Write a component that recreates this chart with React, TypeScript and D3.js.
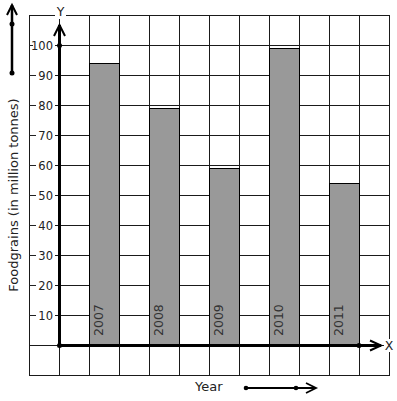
import React from "react";
import * as d3 from "d3";

const years = ["2007", "2008", "2009", "2010", "2011"];
const foodgrains = [94, 79, 59, 99, 54];
const yTicks = [10, 20, 30, 40, 50, 60, 70, 80, 90, 100];
const barColumns = [1, 3, 5, 7, 9];

const W = 397;
const H = 401;
const FONT = "'DejaVu Sans', Verdana, sans-serif";

export default function App() {
  // column index -1..11 -> x; value -10..110 -> y
  const x = d3.scaleLinear().domain([-1, 11]).range([29, 389]);
  const y = d3.scaleLinear().domain([-10, 110]).range([375, 15]);
  const colW = x(1) - x(0);

  const vLines = d3.range(-1, 12).map((i) => x(i));
  const hLines = d3.range(-10, 120, 10).map((v) => y(v));

  const ax0 = x(0);
  const ay0 = y(0);
  const stroke = "#1a1a1a";

  return (
    <svg
      width={W}
      height={H}
      style={{ position: "absolute", left: 0, top: 0, background: "#fff" }}
      fontFamily={FONT}
    >
      <rect x={0} y={0} width={W} height={H} fill="#fff" />
      {/* grid */}
      {vLines.map((vx, i) => (
        <line key={"v" + i} x1={vx + 0.5} x2={vx + 0.5} y1={y(110)} y2={y(-10)} stroke={stroke} strokeWidth={1} />
      ))}
      {hLines.map((hy, i) => (
        <line key={"h" + i} x1={x(-1)} x2={x(11) + 1} y1={hy + 0.5} y2={hy + 0.5} stroke={stroke} strokeWidth={1} />
      ))}

      {/* bars */}
      {years.map((yr, i) => {
        const bx = x(barColumns[i]);
        const by = y(foodgrains[i]);
        return (
          <g key={yr}>
            <rect
              x={bx + 0.5}
              y={by + 0.5}
              width={colW}
              height={ay0 - by}
              fill="#999999"
              stroke="#000"
              strokeWidth={1}
            />
            <text
              transform={`translate(${bx + colW / 2 - 1.5},${ay0 - 9}) rotate(-90)`}
              fontSize={12.5}
              fill="#333"
            >
              {yr}
            </text>
          </g>
        );
      })}

      {/* y tick labels */}
      {yTicks.map((t) => (
        <g key={"t" + t}>
          <rect x={x(-1) + 1} y={y(t) - 6} width={25} height={12} fill="#fff" />
          <line x1={x(-1)} x2={t >= 100 ? x(-1) + 4 : x(-1) + 7} y1={y(t) + 0.5} y2={y(t) + 0.5} stroke="#222" strokeWidth={1} />
          <text x={x(-1) + 24} y={y(t) + 4.5} fontSize={11.5} textAnchor="end" fill="#222">
            {t}
          </text>
        </g>
      ))}

      {/* Y axis */}
      <line x1={ax0 + 0.5} x2={ax0 + 0.5} y1={ay0} y2={25} stroke="#000" strokeWidth={3} />
      <polyline points={`${ax0 - 5},${36} ${ax0 + 0.5},${25} ${ax0 + 6},${36}`} fill="none" stroke="#000" strokeWidth={2} />
      <circle cx={ax0 + 0.5} cy={y(100) + 0.5} r={2.5} fill="#000" />
      <rect x={ax0 - 4} y={6} width={11} height={13} fill="#fff" />
      <text x={ax0 + 1.5} y={16} fontSize={12.5} textAnchor="middle" fill="#222">Y</text>

      {/* X axis */}
      <line x1={ax0} x2={381} y1={ay0 + 0.5} y2={ay0 + 0.5} stroke="#000" strokeWidth={3} />
      <polyline points={`370,${ay0 - 4.5} 381,${ay0 + 0.5} 370,${ay0 + 5.5}`} fill="none" stroke="#000" strokeWidth={2} />
      <circle cx={x(10)} cy={ay0 + 0.5} r={2.5} fill="#000" />
      <circle cx={ax0 + 0.5} cy={ay0 + 0.5} r={2.5} fill="#000" />
      <rect x={384} y={ay0 - 6} width={10} height={13} fill="#fff" />
      <text x={389} y={ay0 + 5} fontSize={12.5} textAnchor="middle" fill="#222">X</text>

      {/* left title arrow */}
      <line x1={12} x2={12} y1={73} y2={5} stroke="#000" strokeWidth={2.5} />
      <polyline points={`7,15 12,5 17,15`} fill="none" stroke="#000" strokeWidth={2} />
      <circle cx={12} cy={24} r={2.5} fill="#000" />
      <circle cx={12} cy={73} r={2.5} fill="#000" />
      <text
        transform={`translate(17.5,195) rotate(-90)`}
        fontSize={13}
        textAnchor="middle"
        fill="#222"
      >
        Foodgrains (in million tonnes)
      </text>

      {/* bottom title arrow */}
      <text x={195} y={391} fontSize={13} fill="#222">Year</text>
      <line x1={246} x2={316} y1={388} y2={388} stroke="#000" strokeWidth={2} />
      <polyline points={`306,383 316,388 306,393`} fill="none" stroke="#000" strokeWidth={1.8} />
      <circle cx={246} cy={388} r={2.3} fill="#000" />
      <circle cx={296} cy={388} r={2.3} fill="#000" />
    </svg>
  );
}
